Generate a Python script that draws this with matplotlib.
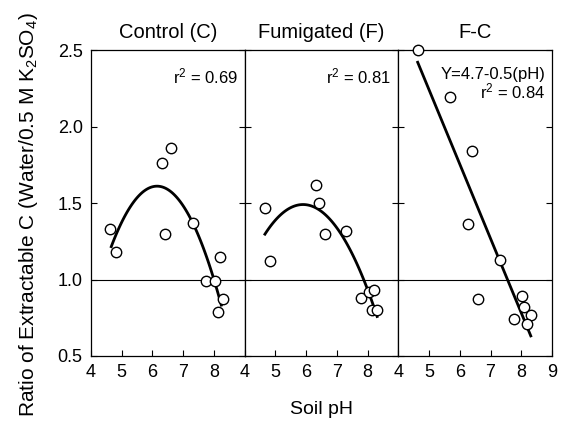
import numpy as np
import matplotlib.pyplot as plt

plt.rcParams['font.family'] = ['Liberation Sans', 'DejaVu Sans']
plt.rcParams['mathtext.fontset'] = 'custom'
plt.rcParams['mathtext.rm'] = 'Liberation Sans'
plt.rcParams['mathtext.it'] = 'Liberation Sans:italic'

# Control (C)
ctrl_ph = [4.63, 4.80, 6.32, 6.62, 6.40, 7.31, 8.21, 7.74, 8.02, 8.31, 8.12]
ctrl_ratio = [1.33, 1.18, 1.76, 1.86, 1.30, 1.37, 1.15, 0.99, 0.99, 0.87, 0.79]
ctrl_curve = (6.15, 1.61, -0.178)   # vertex x, vertex y, curvature
ctrl_span = (4.66, 8.24)

# Fumigated (F)
fum_ph = [4.66, 4.81, 6.32, 6.41, 6.61, 7.30, 7.77, 8.03, 8.21, 8.13, 8.31]
fum_ratio = [1.47, 1.12, 1.62, 1.50, 1.30, 1.32, 0.88, 0.92, 0.93, 0.80, 0.80]
fum_curve = (5.90, 1.49, -0.126)
fum_span = (4.66, 8.31)

# F-C
fc_ph = [4.63, 5.68, 6.39, 6.28, 7.30, 6.59, 8.01, 8.09, 8.31, 7.76, 8.19]
fc_ratio = [2.50, 2.19, 1.84, 1.36, 1.13, 0.87, 0.89, 0.82, 0.77, 0.74, 0.71]
fc_line = (4.67, -0.486)   # intercept, slope
fc_span = (4.63, 8.31)

titles = ['Control (C)', 'Fumigated (F)', 'F-C']
notes = ['r$^2$ = 0.69', 'r$^2$ = 0.81', 'Y=4.7-0.5(pH)\nr$^2$ = 0.84']

fig = plt.figure(figsize=(5.64, 4.22), dpi=100)
left, right, bottom, top = 0.1613, 0.9787, 0.1564, 0.8815
w = (right - left) / 3
axes = [fig.add_axes([left + i * w, bottom, w, top - bottom]) for i in range(3)]

for i, ax in enumerate(axes):
    ax.set_xlim(4, 9)
    ax.set_ylim(0.5, 2.5)
    ax.axhline(1.0, color='black', lw=0.8, zorder=1)
    if i < 2:
        ax.set_xticks([4, 5, 6, 7, 8])
    else:
        ax.set_xticks([4, 5, 6, 7, 8, 9])
    ax.set_yticks([0.5, 1.0, 1.5, 2.0, 2.5])
    ax.tick_params(direction='in', length=4, width=0.8, labelsize=13,
                   left=True, right=True, top=False, pad=6)
    if i > 0:
        ax.tick_params(labelleft=False)
    else:
        ax.set_yticklabels(['0.5', '1.0', '1.5', '2.0', '2.5'])
    for s in ax.spines.values():
        s.set_linewidth(0.9)
    ax.set_title(titles[i], fontsize=14.5, pad=9)

data = [(ctrl_ph, ctrl_ratio), (fum_ph, fum_ratio), (fc_ph, fc_ratio)]
for ax, (x, y) in zip(axes, data):
    ax.plot(x, y, 'o', ms=7.5, mfc='white', mec='black', mew=1.0,
            clip_on=False, zorder=3)

for ax, (h, k, c), (a, b) in [(axes[0], ctrl_curve, ctrl_span),
                              (axes[1], fum_curve, fum_span)]:
    xs = np.linspace(a, b, 100)
    ax.plot(xs, k + c * (xs - h) ** 2, color='black', lw=2, zorder=2)

xs = np.array(fc_span)
axes[2].plot(xs, fc_line[0] + fc_line[1] * xs, color='black', lw=2, zorder=2)

for ax, t in zip(axes, notes):
    ax.text(0.955, 0.945, t, transform=ax.transAxes, ha='right', va='top',
            fontsize=12, linespacing=1.0)

axes[0].set_ylabel('Ratio of Extractable C (Water/0.5 M K$_2$SO$_4$)',
                   fontsize=15)
axes[0].yaxis.set_label_coords(-0.33, 0.461)
fig.text((left + right) / 2, 0.02, 'Soil pH', ha='center', fontsize=14)

fig.savefig('out.png', dpi=100)
